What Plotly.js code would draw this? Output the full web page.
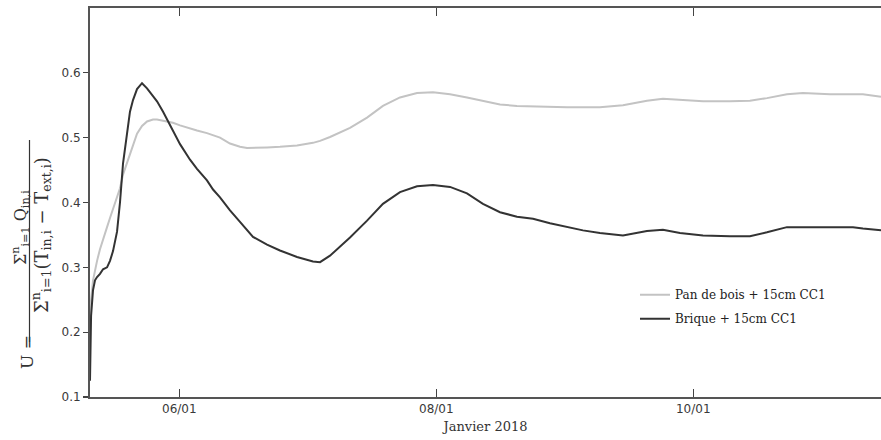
<!DOCTYPE html>
<html>
<head>
<meta charset="utf-8">
<script src="https://cdn.plot.ly/plotly-3.0.1.min.js"></script>
<style>html,body{margin:0;padding:0;background:#fff;overflow:hidden}</style>
</head>
<body>
<div id="chart" style="width:881px;height:440px"></div>
<script>
// Time stamps (January 2018)
const times = [
"2018-01-05 07:19","2018-01-05 07:31","2018-01-05 07:53","2018-01-05 08:15","2018-01-05 08:38",
"2018-01-05 09:11","2018-01-05 09:45","2018-01-05 10:30","2018-01-05 11:03","2018-01-05 11:37",
"2018-01-05 12:22","2018-01-05 12:55","2018-01-05 13:29","2018-01-05 14:14","2018-01-05 14:47",
"2018-01-05 15:21","2018-01-05 16:06","2018-01-05 17:02","2018-01-05 17:58","2018-01-05 19:05",
"2018-01-05 19:50","2018-01-05 20:58","2018-01-05 21:42","2018-01-05 22:49","2018-01-06 00:08",
"2018-01-06 02:00","2018-01-06 03:18","2018-01-06 05:10","2018-01-06 06:18","2018-01-06 07:36",
"2018-01-06 09:28","2018-01-06 11:20","2018-01-06 12:39","2018-01-06 13:46","2018-01-06 16:23",
"2018-01-06 18:48","2018-01-06 21:59","2018-01-07 00:58","2018-01-07 02:17","2018-01-07 04:09",
"2018-01-07 07:53","2018-01-07 11:04","2018-01-07 14:02","2018-01-07 17:13","2018-01-07 20:24",
"2018-01-07 23:23","2018-01-08 02:34","2018-01-08 05:44","2018-01-08 08:43","2018-01-08 11:54",
"2018-01-08 15:04","2018-01-08 18:04","2018-01-08 21:14","2018-01-09 00:25","2018-01-09 03:24",
"2018-01-09 06:34","2018-01-09 10:52","2018-01-09 15:21","2018-01-09 18:20","2018-01-09 21:31",
"2018-01-10 01:49","2018-01-10 06:51","2018-01-10 10:35","2018-01-10 13:46","2018-01-10 17:30",
"2018-01-10 20:29","2018-01-10 22:21","2018-01-11 01:32","2018-01-11 05:50","2018-01-11 07:41",
"2018-01-11 11:04"
];

// Pan de bois + 15cm CC1
const panDeBois = [
0.22,0.25,0.28,0.298,0.31,
0.328,0.344,0.362,0.376,0.39,
0.41,0.422,0.443,0.462,0.475,
0.49,0.506,0.518,0.525,0.528,
0.528,0.526,0.525,0.523,0.519,
0.514,0.511,0.507,0.504,0.50,
0.491,0.486,0.484,0.484,0.485,
0.486,0.488,0.492,0.495,0.501,
0.515,0.531,0.549,0.562,0.569,
0.570,0.567,0.562,0.557,0.551,
0.549,0.548,0.548,0.547,0.547,
0.547,0.55,0.557,0.56,0.558,
0.556,0.556,0.557,0.561,0.567,
0.569,0.568,0.567,0.567,0.567,
0.563
];

// Brique + 15cm CC1
const brique = [
0.125,0.225,0.265,0.28,0.285,
0.29,0.297,0.30,0.31,0.325,
0.355,0.40,0.46,0.507,0.54,
0.558,0.575,0.584,0.576,0.564,
0.556,0.54,0.528,0.51,0.49,
0.466,0.452,0.434,0.42,0.408,
0.388,0.37,0.358,0.347,0.335,
0.326,0.316,0.309,0.308,0.318,
0.346,0.372,0.398,0.416,0.425,
0.427,0.424,0.414,0.398,0.385,
0.378,0.375,0.368,0.362,0.357,
0.353,0.349,0.356,0.358,0.353,
0.349,0.348,0.348,0.354,0.362,
0.362,0.362,0.362,0.362,0.36,
0.357
];

const seriesNames = ["Pan de bois + 15cm CC1", "Brique + 15cm CC1"];
const xTickVals = ["2018-01-06", "2018-01-08", "2018-01-10"];
const xTickText = ["06/01", "08/01", "10/01"];
const yTickVals = [0.1, 0.2, 0.3, 0.4, 0.5, 0.6];
const xTitle = "Janvier 2018";

const serif = "DejaVu Serif, Liberation Serif, serif";
const sans = "DejaVu Sans, sans-serif";

const traces = [
  {x: times, y: panDeBois, type: "scatter", mode: "lines", name: seriesNames[0],
   legendgroup: "a", line: {color: "#c3c3c3", width: 2}},
  {x: times, y: brique, type: "scatter", mode: "lines", name: seriesNames[1],
   legendgroup: "b", line: {color: "#333333", width: 2}}
];

const layout = {
  width: 881, height: 440,
  margin: {l: 90, r: 0, t: 8, b: 43},
  paper_bgcolor: "#fff", plot_bgcolor: "#fff",
  showlegend: true,
  legend: {x: 0.689, xanchor: "left", y: 0.30, yanchor: "top",
    bgcolor: "rgba(0,0,0,0)", tracegroupgap: 5, traceorder: "grouped",
    font: {family: serif, size: 12, color: "#222"}},
  xaxis: {
    type: "date",
    range: ["2018-01-05 07:19", "2018-01-11 11:04"],
    tickvals: xTickVals, ticktext: xTickText,
    ticks: "inside", ticklen: 8, tickwidth: 1.2, tickcolor: "#444",
    showline: true, linecolor: "#555", linewidth: 2, mirror: "ticks",
    showgrid: false, zeroline: false,
    tickfont: {family: sans, size: 12, color: "#3a3a3a"},
    title: {text: xTitle, font: {family: serif, size: 13, color: "#333"}, standoff: 6}
  },
  yaxis: {
    range: [0.1, 0.7],
    tickvals: yTickVals, tickformat: ".1f",
    ticks: "outside", ticklen: 5, tickwidth: 1.2, tickcolor: "#444",
    showline: true, linecolor: "#555", linewidth: 2,
    showgrid: false, zeroline: false,
    tickfont: {family: sans, size: 12, color: "#3a3a3a"}
  },
  annotations: [
    {text: "U =", xref: "paper", yref: "paper", x: 0, y: (397 - 352) / 389,
     xshift: -63, xanchor: "center", yanchor: "middle", textangle: -90, showarrow: false,
     font: {family: serif, size: 17, color: "#333"}},
    {text: "Σ<sup>n</sup><sub>i=1</sub> Q<sub>in,i</sub>", xref: "paper", yref: "paper", x: 0, y: (397 - 228) / 389,
     xshift: -70, xanchor: "center", yanchor: "middle", textangle: -90, showarrow: false,
     font: {family: serif, size: 16, color: "#333"}},
    {text: "Σ<sup>n</sup><sub>i=1</sub>(T<sub>in,i</sub> − T<sub>ext,i</sub>)", xref: "paper", yref: "paper", x: 0, y: (397 - 235) / 389,
     xshift: -49, xanchor: "center", yanchor: "middle", textangle: -90, showarrow: false,
     font: {family: serif, size: 18, color: "#333"}}
  ],
  shapes: [
    {type: "line", xref: "paper", yref: "paper",
     x0: (29.5 - 90) / 791, x1: (29.5 - 90) / 791, y0: (397 - 342) / 389, y1: (397 - 140) / 389,
     line: {color: "#333", width: 1.2}}
  ]
};

Plotly.newPlot("chart", traces, layout, {displayModeBar: false, staticPlot: true});
</script>
</body>
</html>
